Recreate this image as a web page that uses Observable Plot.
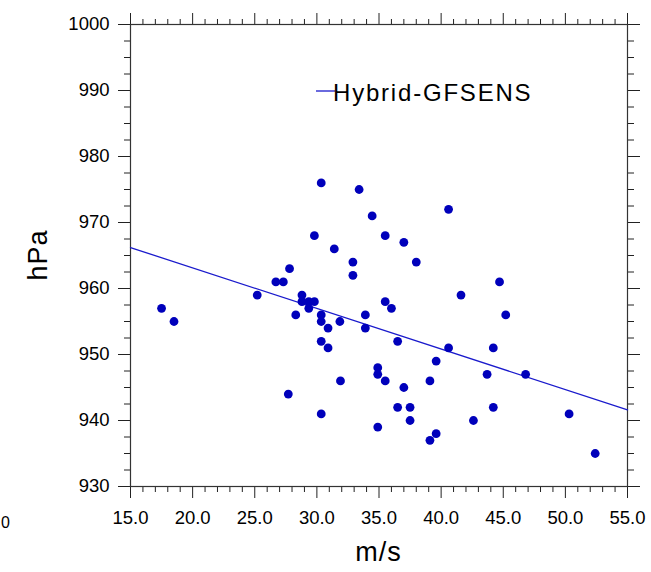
<!DOCTYPE html>
<html>
<head>
<meta charset="utf-8">
<script src="https://cdn.jsdelivr.net/npm/d3@7"></script>
<script src="https://cdn.jsdelivr.net/npm/@observablehq/plot@0.6"></script>
<style>
  html, body { margin: 0; padding: 0; background: #fff; }
  #chart { width: 651px; height: 572px; overflow: hidden; }
  svg { font-family: "Liberation Sans", Arial, Helvetica, sans-serif; }
</style>
</head>
<body>
<div id="chart"></div>
<script>
// Wind speed (m/s) and pressure (hPa)
const windSpeed = [17.5, 18.5, 25.2, 26.7, 27.3, 27.8, 27.7, 28.3, 28.8, 28.8,
  29.35, 29.8, 29.35, 29.8, 30.35, 30.35, 30.35, 30.35, 30.35, 30.9,
  30.9, 31.4, 31.85, 31.9, 32.9, 32.9, 33.4, 33.9, 33.9, 34.45,
  34.9, 34.9, 34.9, 35.5, 35.5, 35.5, 36.0, 36.5, 36.5, 37.0,
  37.0, 37.5, 37.5, 38.0, 39.1, 39.1, 39.6, 39.6, 40.6, 40.6,
  41.6, 42.6, 43.7, 44.2, 44.2, 44.7, 45.2, 46.8, 50.3, 52.4];
const pressure = [957, 955, 959, 961, 961, 963, 944, 956, 959, 958,
  958, 958, 957, 968, 976, 956, 955, 952, 941, 954,
  951, 966, 955, 946, 964, 962, 975, 956, 954, 971,
  948, 947, 939, 968, 958, 946, 957, 952, 942, 967,
  945, 942, 940, 964, 946, 937, 949, 938, 972, 951,
  959, 940, 947, 951, 942, 961, 956, 947, 941, 935];

// Regression line end points (as drawn)
const fitX = [15, 55];
const fitY = [966.2, 941.6];

const seriesName = "Hybrid-GFSENS";
const xTicks = [15, 20, 25, 30, 35, 40, 45, 50, 55];
const yTicks = [930, 940, 950, 960, 970, 980, 990, 1000];
const xMinor = d3.range(15, 55.001, 1).filter(v => v % 5 !== 0);
const yMinor = d3.range(930, 1000.001, 2.5).filter(v => v % 10 !== 0);

const points = windSpeed.map((x, i) => ({x, y: pressure[i]}));
const fit = fitX.map((x, i) => ({x, y: fitY[i]}));

const tickColor = "#222";
const noText = () => "";

const plot = Plot.plot({
  width: 651,
  height: 572,
  marginLeft: 130,
  marginRight: 24,
  marginTop: 24,
  marginBottom: 86,
  style: {fontFamily: '"Liberation Sans", Arial, sans-serif', background: "white", color: "black"},
  x: {domain: [15, 55]},
  y: {domain: [930, 1000]},
  marks: [
    // major ticks with labels (bottom / left)
    Plot.axisX(xTicks, {anchor: "bottom", tickSize: 12, tickPadding: 12, tickFormat: d3.format(".1f"), fontSize: 18.5, label: null, stroke: tickColor}),
    Plot.axisY(yTicks, {anchor: "left", tickSize: 12, tickPadding: 9, tickFormat: d3.format("d"), fontSize: 18.5, label: null, stroke: tickColor}),
    // major ticks without labels (top / right)
    Plot.axisX(xTicks, {anchor: "top", tickSize: 12, tickFormat: noText, label: null, stroke: tickColor}),
    Plot.axisY(yTicks, {anchor: "right", tickSize: 12, tickFormat: noText, label: null, stroke: tickColor}),
    // minor ticks
    Plot.axisX(xMinor, {anchor: "bottom", tickSize: 6, tickFormat: noText, label: null, stroke: tickColor}),
    Plot.axisX(xMinor, {anchor: "top", tickSize: 6, tickFormat: noText, label: null, stroke: tickColor}),
    Plot.axisY(yMinor, {anchor: "left", tickSize: 6, tickFormat: noText, label: null, stroke: tickColor}),
    Plot.axisY(yMinor, {anchor: "right", tickSize: 6, tickFormat: noText, label: null, stroke: tickColor}),
    Plot.frame({stroke: "#333", strokeWidth: 1.2}),
    Plot.line(fit, {x: "x", y: "y", stroke: "#1a1acc", strokeWidth: 1.3}),
    Plot.dot(points, {x: "x", y: "y", r: 4.4, fill: "#0000bb", stroke: "none"})
  ]
});

document.getElementById("chart").appendChild(plot);

// Axis titles, legend and a neighbour-panel label at the left edge
const svg = d3.select(plot);
const [x0, x1] = plot.scale("x").range;
const [yb, yt] = plot.scale("y").range;
const xc = (x0 + x1) / 2, yc = (yb + yt) / 2;

svg.append("text")
  .attr("transform", `translate(38,${yc}) rotate(-90)`)
  .attr("text-anchor", "middle").attr("dy", "0.35em")
  .attr("font-size", 27).attr("letter-spacing", 1)
  .text("hPa");

svg.append("text")
  .attr("x", xc).attr("y", 561)
  .attr("text-anchor", "middle")
  .attr("font-size", 27).attr("letter-spacing", 1)
  .text("m/s");

const legend = svg.append("g");
legend.append("line")
  .attr("x1", 316).attr("x2", 335).attr("y1", 91).attr("y2", 91)
  .attr("stroke", "#1a1acc").attr("stroke-width", 1.3);
legend.append("text")
  .attr("x", 333).attr("y", 101)
  .attr("text-anchor", "start")
  .attr("font-size", 24).attr("letter-spacing", 1.8)
  .text(seriesName);

svg.append("text")
  .attr("x", 1).attr("y", 528)
  .attr("text-anchor", "start")
  .attr("font-size", 16)
  .text("0");
</script>
</body>
</html>
